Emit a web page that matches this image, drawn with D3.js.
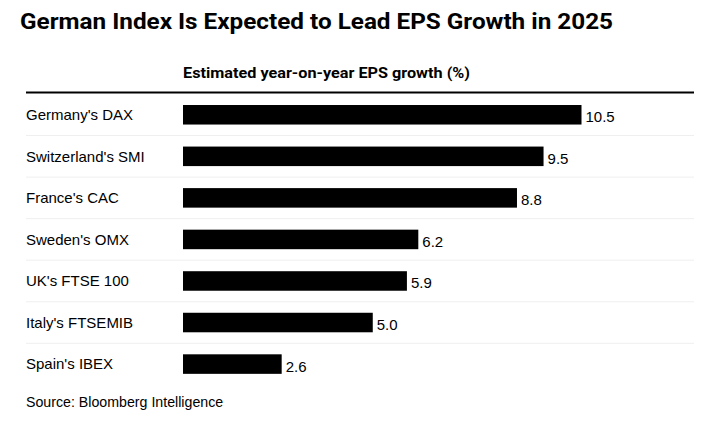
<!DOCTYPE html>
<html lang="en">
  <head>
    <meta charset="utf-8">
    <title>German Index Is Expected to Lead EPS Growth in 2025</title>
    <script src="https://d3js.org/d3.v7.min.js"></script>
    <style>
      body { margin: 0; background: #fff; }
      .title { font-family: Roboto, sans-serif; font-weight: 700; font-size: 22px; fill: #000; }
      .subtitle { font-family: Roboto, sans-serif; font-weight: 700; font-size: 14px; fill: #000; }
      .label, .value { font-family: "Liberation Sans", Arial, sans-serif; font-size: 15px; fill: #000; }
      .source { font-family: "Liberation Sans", Arial, sans-serif; font-size: 14.2px; fill: #000; }
    </style>
  </head>
  <body>
    <div id="chart"></div>
    <script>

      var indexes = ["Germany's DAX", "Switzerland's SMI", "France's CAC", "Sweden's OMX",
                     "UK's FTSE 100", "Italy's FTSEMIB", "Spain's IBEX"];
      var growth = [10.5, 9.5, 8.8, 6.2, 5.9, 5.0, 2.6];

      var data = indexes.map(function(name, i){ return {name: name, value: growth[i]}; });

      var width = 709;
      var height = 425;
      var margin = {top: 94, left: 183, right: 15, bottom: 40};
      var rowStep = 41.55;

      var svg = d3.select("#chart")
        .append("svg")
        .attr("width", width)
        .attr("height", height);

      svg.append("text")
        .attr("class", "title")
        .attr("x", 20)
        .attr("y", 29)
        .attr("textLength", 593)
        .attr("lengthAdjust", "spacingAndGlyphs")
        .text("German Index Is Expected to Lead EPS Growth in 2025");

      svg.append("text")
        .attr("class", "subtitle")
        .attr("x", margin.left)
        .attr("y", 78)
        .attr("textLength", 287)
        .attr("lengthAdjust", "spacingAndGlyphs")
        .text("Estimated year-on-year EPS growth (%)");

      var xScale = d3.scaleLinear()
        .domain([0, 10.5])
        .range([margin.left, 581.5]);

      var yScale = d3.scaleBand()
        .domain(indexes)
        .range([margin.top, margin.top + rowStep * indexes.length])
        .paddingInner(0.53)
        .paddingOuter(0.265);

      // light row separators
      svg.selectAll(".sep")
        .data(indexes.slice(1))
        .enter()
        .append("line")
        .attr("class", "sep")
        .attr("x1", 26)
        .attr("x2", 694)
        .attr("y1", function(d){ return yScale(d) - yScale.step() * yScale.paddingInner() / 2; })
        .attr("y2", function(d){ return yScale(d) - yScale.step() * yScale.paddingInner() / 2; })
        .attr("stroke", "#efefef")
        .attr("stroke-width", 1);

      svg.append("line")
        .attr("x1", 26)
        .attr("x2", 694)
        .attr("y1", 92.5)
        .attr("y2", 92.5)
        .attr("stroke", "#000")
        .attr("stroke-width", 2);

      svg.selectAll(".bar")
        .data(data)
        .enter()
        .append("rect")
        .attr("class", "bar")
        .attr("x", xScale(0))
        .attr("y", function(d){ return yScale(d.name); })
        .attr("width", function(d){ return xScale(d.value) - xScale(0); })
        .attr("height", yScale.bandwidth())
        .attr("fill", "#000");

      svg.selectAll(".label")
        .data(data)
        .enter()
        .append("text")
        .attr("class", "label")
        .attr("x", 26)
        .attr("y", function(d){ return yScale(d.name) + yScale.bandwidth() / 2; })
        .attr("dy", "0.35em")
        .text(function(d){ return d.name; });

      svg.selectAll(".value")
        .data(data)
        .enter()
        .append("text")
        .attr("class", "value")
        .attr("x", function(d){ return xScale(d.value) + 4; })
        .attr("y", function(d){ return yScale(d.name) + yScale.bandwidth() / 2; })
        .attr("dy", "0.5em")
        .text(function(d){ return d.value.toFixed(1); });

      svg.append("text")
        .attr("class", "source")
        .attr("x", 26)
        .attr("y", 407)
        .text("Source: Bloomberg Intelligence");

    </script>
  </body>
</html>
